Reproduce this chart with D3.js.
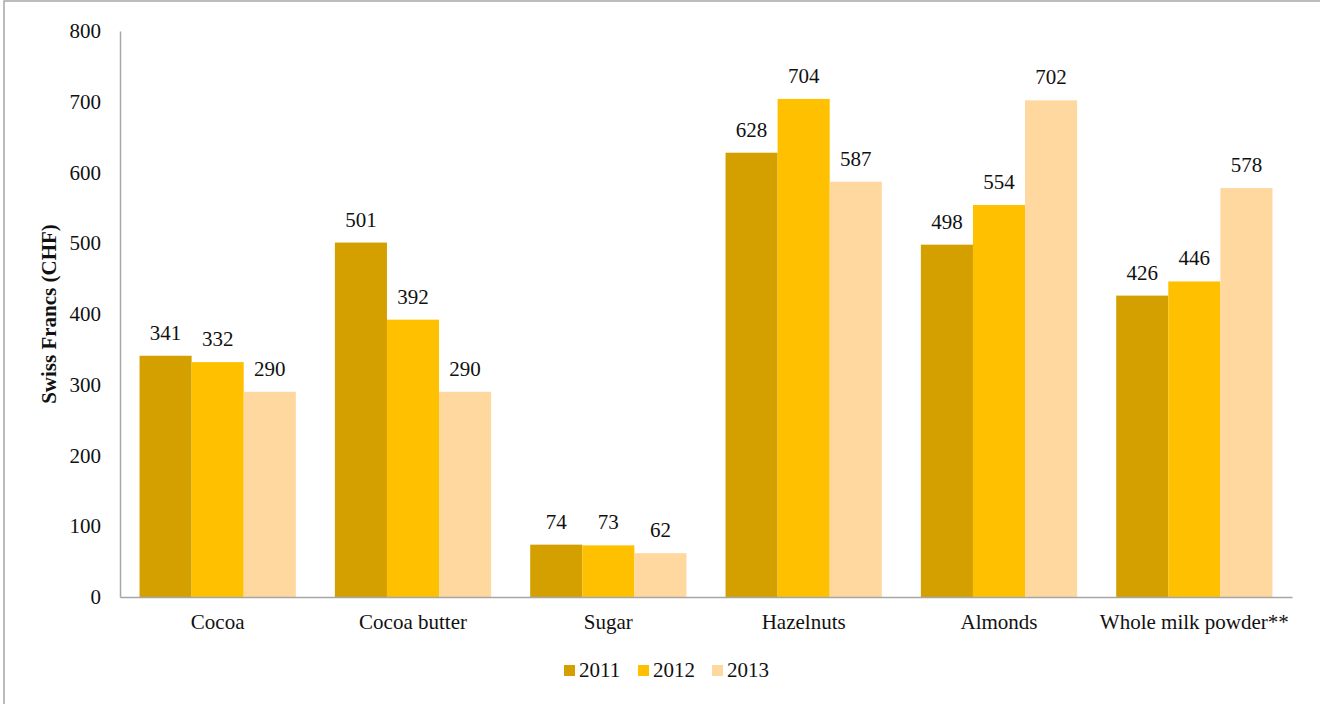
<!DOCTYPE html>
<html>
<head>
<meta charset="utf-8">
<script src="https://cdn.jsdelivr.net/npm/d3@7/dist/d3.min.js"></script>
<style>
  html, body { margin: 0; padding: 0; background: #fff; }
  svg { display: block; }
  text { font-family: "Liberation Serif", "Times New Roman", serif; fill: #111; }
</style>
</head>
<body>
<svg id="chart" width="1320" height="704"></svg>
<script>
const categories = ["Cocoa", "Cocoa butter", "Sugar", "Hazelnuts", "Almonds", "Whole milk powder**"];
const seriesNames = ["2011", "2012", "2013"];
const values2011 = [341, 501, 74, 628, 498, 426];
const values2012 = [332, 392, 73, 704, 554, 446];
const values2013 = [290, 290, 62, 587, 702, 578];
const yTicks = [0, 100, 200, 300, 400, 500, 600, 700, 800];
const colors = ["#D4A000", "#FFC000", "#FFD8A0"];

(function () {
const FS = 21;
const seriesValues = [values2011, values2012, values2013];
const data = categories.map((c, i) => ({
  category: c,
  vals: seriesNames.map((s, j) => ({ series: s, value: seriesValues[j][i], color: colors[j] }))
}));

const svg = d3.select("#chart");
const W = 1320, H = 704;

// outer frame
svg.append("rect")
  .attr("x", 4).attr("y", 1)
  .attr("width", W + 10).attr("height", H + 10)
  .attr("fill", "none").attr("stroke", "#a6a6a6").attr("stroke-width", 1.5);

const mLeft = 120, mRight = 1292, mTop = 31, mBottom = 597;

const x0 = d3.scaleBand().domain(categories).range([mLeft, mRight])
  .paddingInner(0.2).paddingOuter(0.1);
const x1 = d3.scaleBand().domain(seriesNames).range([0, x0.bandwidth()]).padding(0);
const y = d3.scaleLinear().domain([0, 800]).range([mBottom, mTop]);

// bars
const groups = svg.append("g").selectAll("g").data(data).join("g")
  .attr("transform", d => `translate(${x0(d.category)},0)`);

groups.selectAll("rect").data(d => d.vals).join("rect")
  .attr("x", d => x1(d.series))
  .attr("y", d => y(d.value))
  .attr("width", x1.bandwidth())
  .attr("height", d => y(0) - y(d.value))
  .attr("fill", d => d.color);

groups.selectAll("text.val").data(d => d.vals).join("text")
  .attr("class", "val")
  .attr("x", d => x1(d.series) + x1.bandwidth() / 2)
  .attr("y", d => y(d.value) - 16)
  .attr("text-anchor", "middle")
  .attr("font-size", FS)
  .text(d => d.value);

// y axis
const yAxis = d3.axisLeft(y).tickValues(yTicks).tickSize(0).tickPadding(19);
const gy = svg.append("g").attr("transform", `translate(${mLeft},0)`).call(yAxis);
gy.select(".domain").attr("stroke", "#a6a6a6").attr("stroke-width", 1.5);
gy.selectAll("text").attr("font-size", FS).attr("font-family", '"Liberation Serif", serif').attr("fill", "#111");

// x axis
const xAxis = d3.axisBottom(x0).tickSize(0).tickPadding(17).tickSizeOuter(0);
const gx = svg.append("g").attr("transform", `translate(0,${mBottom})`).call(xAxis);
gx.select(".domain").attr("stroke", "#a6a6a6").attr("stroke-width", 1.5);
gx.selectAll("text").attr("font-size", FS).attr("font-family", '"Liberation Serif", serif').attr("fill", "#111");

// y title
svg.append("text")
  .attr("transform", `translate(56,${(mTop + mBottom) / 2}) rotate(-90)`)
  .attr("text-anchor", "middle")
  .attr("font-size", FS)
  .attr("font-weight", "bold")
  .text("Swiss Francs (CHF)");

// legend
const legend = svg.append("g").selectAll("g").data(seriesNames).join("g")
  .attr("transform", (d, i) => `translate(${564 + i * 74},665)`);
legend.append("rect").attr("width", 11).attr("height", 11).attr("fill", (d, i) => colors[i]);
legend.append("text").attr("x", 15).attr("y", 12).attr("font-size", FS).text(d => d);
})();
</script>
</body>
</html>
